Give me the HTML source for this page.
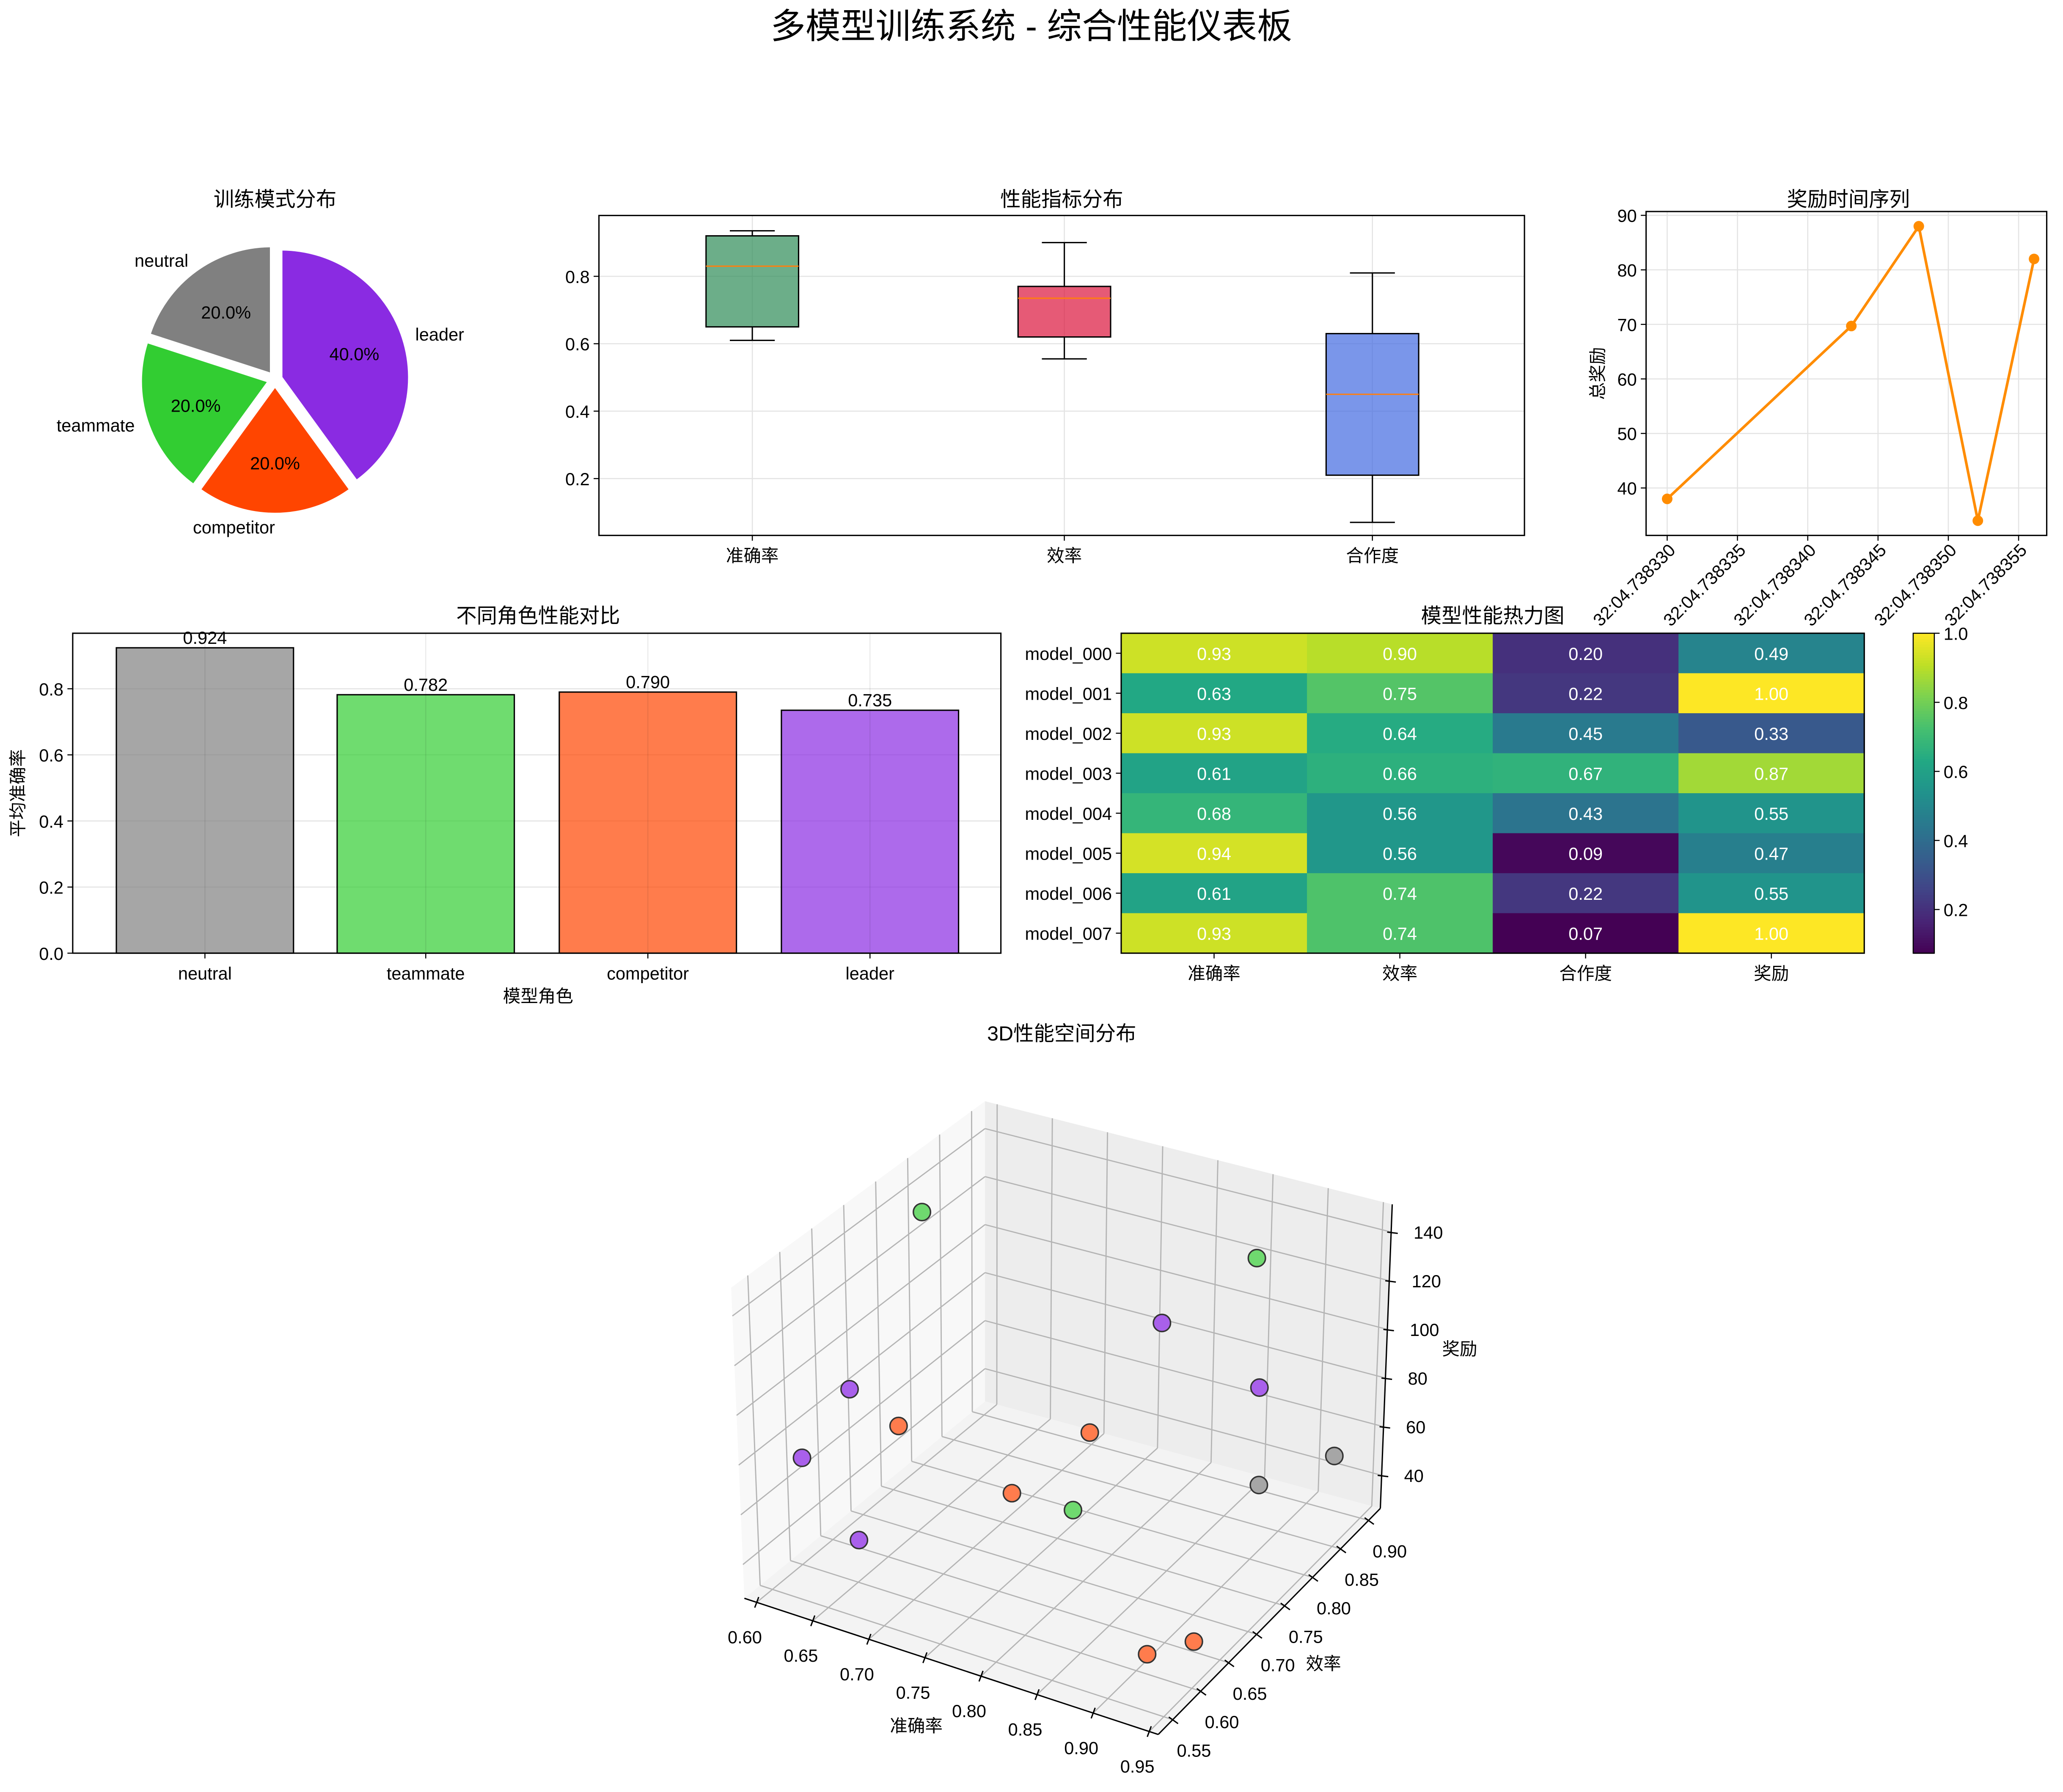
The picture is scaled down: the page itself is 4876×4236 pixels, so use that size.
<!DOCTYPE html>
<html><head><meta charset="utf-8">
<style>
html,body{margin:0;padding:0;background:#fff;}
svg{display:block;font-family:"Liberation Sans","Noto Sans CJK SC",sans-serif;}
</style></head>
<body>
<svg id="fig" width="4876" height="4236" viewBox="0 0 1560.32 1355.52" xmlns="http://www.w3.org/2000/svg">
<rect width="1560.32" height="1355.52" fill="#fff"/>
<text x="780" y="29" text-anchor="middle" font-size="26.5">多模型训练系统 - 综合性能仪表板</text>
<g id="pie"></g><g id="box"></g><g id="ts"></g><g id="bar"></g><g id="heat"></g><g id="d3"></g>
</svg>
<script>
// ---------- data ----------
const pieLabels = ['neutral','teammate','competitor','leader'];
const pieValues = [20,20,20,40];
const pieColors = ['#808080','#32CD32','#FF4500','#8A2BE2'];

const boxCats = ['准确率','效率','合作度'];
const boxWhiskLo = [0.61,0.555,0.07];
const boxQ1 = [0.65,0.62,0.21];
const boxMed = [0.83,0.735,0.45];
const boxQ3 = [0.92,0.77,0.63];
const boxWhiskHi = [0.935,0.90,0.81];
const boxColors = ['#2E8B57','#DC143C','#4169E1'];
const boxTicks = [0.2,0.4,0.6,0.8];

const tsTimes = [330,343.1,347.9,352.1,356.1];
const tsValues = [38,69.7,88,34,82];
const tsXTicks = [330,335,340,345,350,355];
const tsYTicks = [40,50,60,70,80,90];

const barCats = ['neutral','teammate','competitor','leader'];
const barValues = [0.924,0.782,0.790,0.735];
const barColors = ['#808080','#32CD32','#FF4500','#8A2BE2'];
const barTicks = [0,0.2,0.4,0.6,0.8];

const heatRows = ['model_000','model_001','model_002','model_003','model_004','model_005','model_006','model_007'];
const heatCols = ['准确率','效率','合作度','奖励'];
const heatValues = [
 [0.93,0.90,0.20,0.49],[0.63,0.75,0.22,1.00],[0.93,0.64,0.45,0.33],[0.61,0.66,0.67,0.87],
 [0.68,0.56,0.43,0.55],[0.94,0.56,0.09,0.47],[0.61,0.74,0.22,0.55],[0.93,0.74,0.07,1.00]];
const cbTicks = [0.2,0.4,0.6,0.8,1.0];

const p3Acc = [0.623,0.879,0.816,0.600,0.884,0.621,0.773,0.623,0.934,0.906,0.745,0.800,0.650,0.928,0.940];
const p3Eff = [0.762,0.842,0.802,0.683,0.842,0.723,0.762,0.564,0.881,0.802,0.683,0.683,0.603,0.564,0.623];
const p3Rew = [140.9,137.4,111.7,81,85,60.8,70,80,54.3,56.9,58.4,59,42.8,45,38.5];
const p3Role = ['teammate','teammate','leader','leader','leader','competitor','competitor','leader','neutral','neutral','competitor','teammate','leader','competitor','competitor'];
const accTicks = [0.60,0.65,0.70,0.75,0.80,0.85,0.90,0.95];
const effTicks = [0.55,0.60,0.65,0.70,0.75,0.80,0.85,0.90];
const rewTicks = [40,60,80,100,120,140];

// ---------- helpers ----------
const NS='http://www.w3.org/2000/svg';
const FS=13.3, TS=15.5;
function mk(parent,tag,attrs,text){const e=document.createElementNS(NS,tag);for(const k in attrs)e.setAttribute(k,attrs[k]);if(text!==undefined)e.textContent=text;parent.appendChild(e);return e;}
function txt(parent,x,y,s,size,anchor,extra){const a={x:x,y:y,'font-size':size||FS,'text-anchor':anchor||'middle'};if(extra)for(const k in extra)a[k]=extra[k];return mk(parent,'text',a,s);}

// ---------- pie ----------
(function(){
const g=document.getElementById('pie');
const cx=208,cy=287,r=97;
txt(g,208,156,'训练模式分布',TS);
const tot=pieValues.reduce((a,b)=>a+b,0);
let ang=90;
pieValues.forEach((v,i)=>{
 const span=v/tot*360, a0=ang, a1=ang+span, mid=(a0+a1)/2*Math.PI/180;
 const ox=cx+Math.cos(mid)*r*0.05, oy=cy-Math.sin(mid)*r*0.05;
 const p0=[ox+r*Math.cos(a0*Math.PI/180),oy-r*Math.sin(a0*Math.PI/180)];
 const p1=[ox+r*Math.cos(a1*Math.PI/180),oy-r*Math.sin(a1*Math.PI/180)];
 const path=mk(g,'path',{d:`M${ox},${oy}L${p0[0]},${p0[1]}A${r},${r} 0 ${span>180?1:0} 0 ${p1[0]},${p1[1]}Z`,fill:pieColors[i],stroke:'#fff','stroke-width':2});
 
 
 const lx=ox+Math.cos(mid)*r*1.1, ly=oy-Math.sin(mid)*r*1.1;
 const l=txt(g,lx,ly+5,pieLabels[i],FS,Math.cos(mid)<0?'end':'start');
 
 
 const px=ox+Math.cos(mid)*r*0.6, py=oy-Math.sin(mid)*r*0.6;
 const t=txt(g,px,py+5,(v/tot*100).toFixed(1)+'%',FS);
 
 
 ang=a1;
});
})();

// ---------- box plot ----------
(function(){
const g=document.getElementById('box');
const L=453,R=1153,T=163,B=405;
const y=v=>362-(v-0.2)*255;
const xs=[569,805,1038];
txt(g,803,156,'性能指标分布',TS);
boxTicks.forEach(t=>{mk(g,'line',{x1:L,x2:R,y1:y(t),y2:y(t),stroke:'#e3e3e3','stroke-width':0.8});
 mk(g,'line',{x1:L-4,x2:L,y1:y(t),y2:y(t),stroke:'#000','stroke-width':0.8});
 const e=txt(g,L-7,y(t)+5,t.toFixed(1),FS,'end');});
xs.forEach((x,i)=>{mk(g,'line',{x1:x,x2:x,y1:T,y2:B,stroke:'#e3e3e3','stroke-width':0.8});});
boxCats.forEach((c,i)=>{
 const x=xs[i],w=35;
 mk(g,'line',{x1:x,x2:x,y1:y(boxWhiskLo[i]),y2:y(boxQ1[i]),stroke:'#000','stroke-width':1});
 mk(g,'line',{x1:x,x2:x,y1:y(boxQ3[i]),y2:y(boxWhiskHi[i]),stroke:'#000','stroke-width':1});
 mk(g,'line',{x1:x-17,x2:x+17,y1:y(boxWhiskLo[i]),y2:y(boxWhiskLo[i]),stroke:'#000','stroke-width':1});
 mk(g,'line',{x1:x-17,x2:x+17,y1:y(boxWhiskHi[i]),y2:y(boxWhiskHi[i]),stroke:'#000','stroke-width':1});
 const rct=mk(g,'rect',{x:x-w,y:y(boxQ3[i]),width:2*w,height:y(boxQ1[i])-y(boxQ3[i]),fill:boxColors[i],'fill-opacity':0.7,stroke:'#000','stroke-width':1});
 
 
 mk(g,'line',{x1:x-w,x2:x+w,y1:y(boxMed[i]),y2:y(boxMed[i]),stroke:'#ff7f0e','stroke-width':1});
 mk(g,'line',{x1:x,x2:x,y1:B,y2:B+4,stroke:'#000','stroke-width':0.8});
 const e=txt(g,x,B+20,c,FS);
});
mk(g,'rect',{x:L,y:T,width:R-L,height:B-T,fill:'none',stroke:'#000','stroke-width':1});
})();

// ---------- time series ----------
(function(){
const g=document.getElementById('ts');
const L=1245,R=1548,T=160,B=405;
const xMin=328.5,xMax=357.0,yMin=31.3,yMax=90.7;
const x=v=>L+(v-xMin)/(xMax-xMin)*(R-L);
const y=v=>B-(v-yMin)/(yMax-yMin)*(B-T);
txt(g,1398,156,'奖励时间序列',TS);
tsYTicks.forEach(t=>{mk(g,'line',{x1:L,x2:R,y1:y(t),y2:y(t),stroke:'#e3e3e3','stroke-width':0.8});
 mk(g,'line',{x1:L-4,x2:L,y1:y(t),y2:y(t),stroke:'#000','stroke-width':0.8});
 const e=txt(g,L-7,y(t)+5,String(t),FS,'end');});
tsXTicks.forEach(t=>{mk(g,'line',{x1:x(t),x2:x(t),y1:T,y2:B,stroke:'#e3e3e3','stroke-width':0.8});
 mk(g,'line',{x1:x(t),x2:x(t),y1:B,y2:B+4,stroke:'#000','stroke-width':0.8});
 const e=txt(g,0,0,'32:04.738'+String(t),FS,'end',{transform:`translate(${x(t)+7},${B+12}) rotate(-45)`});
 });
const pts=tsTimes.map((t,i)=>x(t)+','+y(tsValues[i])).join(' ');
const pl=mk(g,'polyline',{points:pts,fill:'none',stroke:'#FF8C00','stroke-width':2});

tsTimes.forEach((t,i)=>{const c=mk(g,'circle',{cx:x(t),cy:y(tsValues[i]),r:4,fill:'#FF8C00'});
 });
mk(g,'rect',{x:L,y:T,width:R-L,height:B-T,fill:'none',stroke:'#000','stroke-width':1});
const yl=txt(g,0,0,'总奖励',FS,'middle',{transform:`translate(1213,${(T+B)/2}) rotate(-90)`});

})();

// ---------- bar chart ----------
(function(){
const g=document.getElementById('bar');
const L=55,R=757,T=479,B=721;
const y=v=>B-v*250;
const xs=[155,322,490,658];
txt(g,407,471,'不同角色性能对比',TS);
barTicks.forEach(t=>{mk(g,'line',{x1:L,x2:R,y1:y(t),y2:y(t),stroke:'#e3e3e3','stroke-width':0.8});
 mk(g,'line',{x1:L-4,x2:L,y1:y(t),y2:y(t),stroke:'#000','stroke-width':0.8});
 const e=txt(g,L-7,y(t)+5,t.toFixed(1),FS,'end');});
barCats.forEach((c,i)=>{
 const x=xs[i];
 const r=mk(g,'rect',{x:x-67,y:y(barValues[i]),width:134,height:B-y(barValues[i]),fill:barColors[i],'fill-opacity':0.7,stroke:'#000','stroke-width':1});
 
 mk(g,'line',{x1:x,x2:x,y1:T,y2:B,stroke:'#000','stroke-opacity':0.08,'stroke-width':0.8});
 const v=txt(g,x,y(barValues[i])-3,barValues[i].toFixed(3),FS);
 mk(g,'line',{x1:x,x2:x,y1:B,y2:B+4,stroke:'#000','stroke-width':0.8});
 const e=txt(g,x,B+20,c,FS);
});
mk(g,'rect',{x:L,y:T,width:R-L,height:B-T,fill:'none',stroke:'#000','stroke-width':1});
txt(g,407,758,'模型角色',FS);
txt(g,0,0,'平均准确率',FS,'middle',{transform:`translate(18,600) rotate(-90)`});
})();

// ---------- heatmap ----------
const vir=['#440154','#482475','#414487','#355f8d','#2a788e','#21918c','#22a884','#44bf70','#7ad151','#bddf26','#fde725'];
function hx(c){return [parseInt(c.substr(1,2),16),parseInt(c.substr(3,2),16),parseInt(c.substr(5,2),16)];}
function viridis(t){t=Math.max(0,Math.min(1,t));const f=t*10,i=Math.min(9,Math.floor(f)),u=f-i;const a=hx(vir[i]),b=hx(vir[i+1]);
 return 'rgb('+a.map((v,k)=>Math.round(v+(b[k]-v)*u)).join(',')+')';}
(function(){
const g=document.getElementById('heat');
const L=848,R=1410,T=479,B=721;
const vmin=0.0736,vmax=1.0;
const cw=(R-L)/heatCols.length, ch=(B-T)/heatRows.length;
txt(g,1129,471,'模型性能热力图',TS);
heatRows.forEach((rn,i)=>{
 heatCols.forEach((cn,j)=>{
  const v=heatValues[i][j];
  const r=mk(g,'rect',{x:L+j*cw,y:T+i*ch,width:cw+0.5,height:ch+0.5,fill:viridis((v-vmin)/(vmax-vmin))});
  
  const t=txt(g,L+j*cw+cw/2,T+i*ch+ch/2+5,v.toFixed(2),FS,'middle',{fill:'#fff'});
  
 });
 mk(g,'line',{x1:L-4,x2:L,y1:T+i*ch+ch/2,y2:T+i*ch+ch/2,stroke:'#000','stroke-width':0.8});
 const e=txt(g,L-7,T+i*ch+ch/2+5,rn,FS,'end');
});
heatCols.forEach((cn,j)=>{
 mk(g,'line',{x1:L+j*cw+cw/2,x2:L+j*cw+cw/2,y1:B,y2:B+4,stroke:'#000','stroke-width':0.8});
 const e=txt(g,L+j*cw+cw/2,B+20,cn,FS);
});
mk(g,'rect',{x:L,y:T,width:R-L,height:B-T,fill:'none',stroke:'#000','stroke-width':1});
const cx=1447,cwid=16;
for(let k=0;k<120;k++){const t0=k/120;mk(g,'rect',{x:cx,y:B-(k+1)*(B-T)/120,width:cwid,height:(B-T)/120+0.5,fill:viridis(t0+1/240)});}
mk(g,'rect',{x:cx,y:T,width:cwid,height:B-T,fill:'none',stroke:'#000','stroke-width':0.8});
cbTicks.forEach(t=>{const yy=B-(t-vmin)/(vmax-vmin)*(B-T);
 mk(g,'line',{x1:cx+cwid,x2:cx+cwid+4,y1:yy,y2:yy,stroke:'#000','stroke-width':0.8});
 const e=txt(g,cx+cwid+7,yy+5,t.toFixed(1),FS,'start');});
})();

// ---------- 3D scatter ----------
(function(){
const g=document.getElementById('d3');
const aLo=0.589,aHi=0.958,eLo=0.524,eHi=0.921,zLo=26.4,zHi=151.4;
// floor corners: A(aLo,eLo) B(aHi,eLo) C(aHi,eHi) D(aLo,eHi); top corners primed
const F={A:[563,1209],B:[876,1312],C:[1044,1141],D:[745,1060]};
const Tp={A:[553,974],B:[876,1074],C:[1053,911],D:[745,833]};
function bil(Q,u,v,k){return Q.A[k]*(1-u)*(1-v)+Q.B[k]*u*(1-v)+Q.C[k]*u*v+Q.D[k]*(1-u)*v;}
function P(a,e,z){const u=(a-aLo)/(aHi-aLo),v=(e-eLo)/(eHi-eLo),w=(z-zLo)/(zHi-zLo);
 return [bil(F,u,v,0)*(1-w)+bil(Tp,u,v,0)*w, bil(F,u,v,1)*(1-w)+bil(Tp,u,v,1)*w];}
function poly(pts,fill){return mk(g,'polygon',{points:pts.map(p=>p.join(',')).join(' '),fill:fill,stroke:'none'});}
txt(g,803,787,'3D性能空间分布',TS);
poly([P(aLo,eLo,zLo),P(aHi,eLo,zLo),P(aHi,eHi,zLo),P(aLo,eHi,zLo)],'#f3f3f3');
poly([P(aLo,eLo,zLo),P(aLo,eHi,zLo),P(aLo,eHi,zHi),P(aLo,eLo,zHi)],'#f8f8f8');
poly([P(aLo,eHi,zLo),P(aHi,eHi,zLo),P(aHi,eHi,zHi),P(aLo,eHi,zHi)],'#ededed');
const gs={stroke:'#b4b4b4','stroke-width':0.9};
function ln(p,q,st){return mk(g,'line',Object.assign({x1:p[0],y1:p[1],x2:q[0],y2:q[1]},st));}
accTicks.forEach(a=>{ln(P(a,eLo,zLo),P(a,eHi,zLo),gs);ln(P(a,eHi,zLo),P(a,eHi,zHi),gs);});
effTicks.forEach(e=>{ln(P(aLo,e,zLo),P(aHi,e,zLo),gs);ln(P(aLo,e,zLo),P(aLo,e,zHi),gs);});
rewTicks.forEach(z=>{ln(P(aLo,eLo,z),P(aLo,eHi,z),gs);ln(P(aLo,eHi,z),P(aHi,eHi,z),gs);});
const ax={stroke:'#000','stroke-width':1};
ln(P(aLo,eLo,zLo),P(aHi,eLo,zLo),ax);
ln(P(aHi,eLo,zLo),P(aHi,eHi,zLo),ax);
ln(P(aHi,eHi,zLo),P(aHi,eHi,zHi),ax);
accTicks.forEach(a=>{const p=P(a,eLo,zLo);ln([p[0]+1.5,p[1]-4],[p[0]-1.5,p[1]+4],ax);
 const e=txt(g,p[0]-9,p[1]+31,a.toFixed(2),FS,'middle');});
effTicks.forEach(v=>{const p=P(aHi,v,zLo);ln([p[0]-3,p[1]-2],[p[0]+4,p[1]+3],ax);
 const e=txt(g,p[0]+16,p[1]+28,v.toFixed(2),FS,'middle');});
rewTicks.forEach(z=>{const p=P(aHi,eHi,z);ln([p[0]-3,p[1]],[p[0]+5,p[1]+1],ax);
 const e=txt(g,p[0]+17,p[1]+5,String(z),FS,'start');});
txt(g,693,1310,'准确率',FS);
txt(g,1001,1263,'效率',FS);
txt(g,1104,1025,'奖励',FS);
const roleColor={neutral:'#A6A6A6',teammate:'#6FD96F',competitor:'#FF7C4D',leader:'#A960EB'};
const idx=p3Acc.map((_,i)=>i).sort((i,j)=>p3Eff[j]-p3Eff[i]);
idx.forEach(i=>{const p=P(p3Acc[i],p3Eff[i],p3Rew[i]);
 const c=mk(g,'circle',{cx:p[0],cy:p[1],r:6.5,fill:roleColor[p3Role[i]],stroke:'#333','stroke-width':1.1});
 
 });
})();
</script>
</body></html>
